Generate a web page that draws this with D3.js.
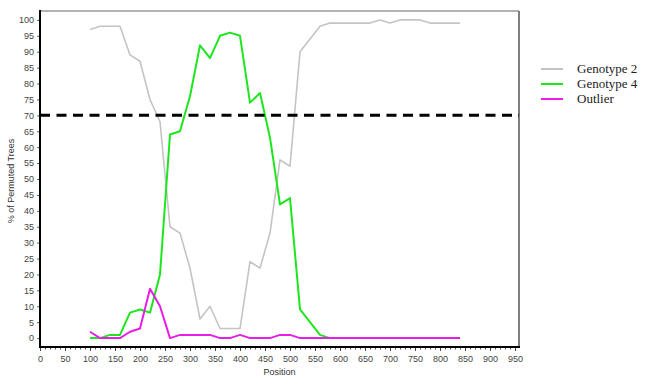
<!DOCTYPE html>
<html><head><meta charset="utf-8">
<script src="https://cdn.jsdelivr.net/npm/d3@7"></script>
<style>body{margin:0;background:#fff}svg{display:block}</style>
</head><body>
<script>
const positions = [100,120,140,160,180,200,220,240,260,280,300,320,340,360,380,400,420,440,460,480,500,520,540,560,580,600,620,640,660,680,700,720,740,760,780,800,820,840];
const genotype2 = [97,98,98,98,89,87,75,68,35,33,22,6,10,3,3,3,24,22,33,56,54,90,94,98,99,99,99,99,99,100,99,100,100,100,99,99,99,99];
const genotype4 = [0,0,1,1,8,9,8,20,64,65,76,92,88,95,96,95,74,77,63,42,44,9,5,1,0,0,0,0,0,0,0,0,0,0,0,0,0,0];
const outlier   = [2,0,0,0,2,3,15.5,10,0,1,1,1,1,0,0,1,0,0,0,1,1,0,0,0,0,0,0,0,0,0,0,0,0,0,0,0,0,0];
const seriesNames = ["Genotype 2","Genotype 4","Outlier"];
const seriesColors = ["#c4c4c4","#1ee61e","#e61ee6"];
const xTicks = d3.range(0, 951, 50);
const yTicks = d3.range(0, 101, 5);
const threshold = 70;

const W = 647, H = 384;
const m = {left:40, top:11, right:519, bottom:347};
const x = d3.scaleLinear().domain([0, 958]).range([m.left, m.right]);
const y = d3.scaleLinear().domain([-2.8, 102.8]).range([m.bottom, m.top]);

const svg = d3.select("body").append("svg").attr("width", W).attr("height", H);

// frame: top and right borders
svg.append("line").attr("x1", m.left).attr("x2", m.right).attr("y1", m.top).attr("y2", m.top)
  .attr("stroke", "#9a9a9a").attr("stroke-width", 1.5);
svg.append("line").attr("x1", m.right).attr("x2", m.right).attr("y1", m.top).attr("y2", m.bottom)
  .attr("stroke", "#555").attr("stroke-width", 1.5);

// series
const series = [genotype2, genotype4, outlier];
const line = d3.line().x(d => x(d[0])).y(d => y(d[1]));
series.forEach((vals, i) => {
  svg.append("path")
    .datum(positions.map((p, j) => [p, vals[j]]))
    .attr("d", line)
    .attr("fill", "none")
    .attr("stroke", seriesColors[i])
    .attr("stroke-width", i === 0 ? 1.6 : 2)
    .attr("stroke-linejoin", "round");
});

// threshold dashed line
svg.append("line").attr("x1", m.left).attr("x2", m.right)
  .attr("y1", y(threshold)).attr("y2", y(threshold))
  .attr("stroke", "#000").attr("stroke-width", 3).attr("stroke-dasharray", "10,6.5");

// y axis
const yAxis = d3.axisLeft(y).tickValues(yTicks).tickSize(3).tickPadding(3);
const gy = svg.append("g").attr("transform", `translate(${m.left},0)`).call(yAxis);
gy.select(".domain").remove();
gy.selectAll(".tick line").attr("stroke", "#666");
gy.selectAll("text").attr("font-family", "Liberation Sans, Arial, sans-serif").attr("font-size", 9).attr("fill", "#444");
svg.append("line").attr("x1", m.left).attr("x2", m.left).attr("y1", m.top - 1).attr("y2", m.bottom + 1)
  .attr("stroke", "#000").attr("stroke-width", 2);

// x axis minor ticks
const gxm = svg.append("g").attr("transform", `translate(0,${m.bottom})`)
  .call(d3.axisBottom(x).tickValues(d3.range(0, 951, 10)).tickSize(2.5).tickFormat(""));
gxm.select(".domain").remove();
gxm.selectAll(".tick line").attr("stroke", "#555");
// x axis major
const gx = svg.append("g").attr("transform", `translate(0,${m.bottom})`)
  .call(d3.axisBottom(x).tickValues(xTicks).tickSize(4).tickPadding(5));
gx.select(".domain").remove();
gx.selectAll(".tick line").attr("stroke", "#444");
gx.selectAll("text").attr("font-family", "Liberation Sans, Arial, sans-serif").attr("font-size", 9).attr("fill", "#444");
svg.append("line").attr("x1", m.left - 1).attr("x2", m.right + 1).attr("y1", m.bottom).attr("y2", m.bottom)
  .attr("stroke", "#000").attr("stroke-width", 2);

// axis titles
svg.append("text").attr("x", (m.left + m.right) / 2).attr("y", 375).attr("text-anchor", "middle")
  .attr("font-family", "Liberation Sans, Arial, sans-serif").attr("font-size", 9).attr("fill", "#333").text("Position");
svg.append("text").attr("transform", "translate(14,181) rotate(-90)").attr("text-anchor", "middle")
  .attr("font-family", "Liberation Sans, Arial, sans-serif").attr("font-size", 9).attr("fill", "#333").text("% of Permuted Trees");

// legend
const lg = svg.append("g");
seriesNames.forEach((n, i) => {
  const yy = 69 + i * 15;
  lg.append("line").attr("x1", 541).attr("x2", 563).attr("y1", yy).attr("y2", yy)
    .attr("stroke", seriesColors[i]).attr("stroke-width", 2);
  lg.append("text").attr("x", 577).attr("y", yy + 4).attr("font-family", "Liberation Serif, Times New Roman, serif")
    .attr("font-size", 13).attr("fill", "#222").text(n);
});
</script>
</body></html>
